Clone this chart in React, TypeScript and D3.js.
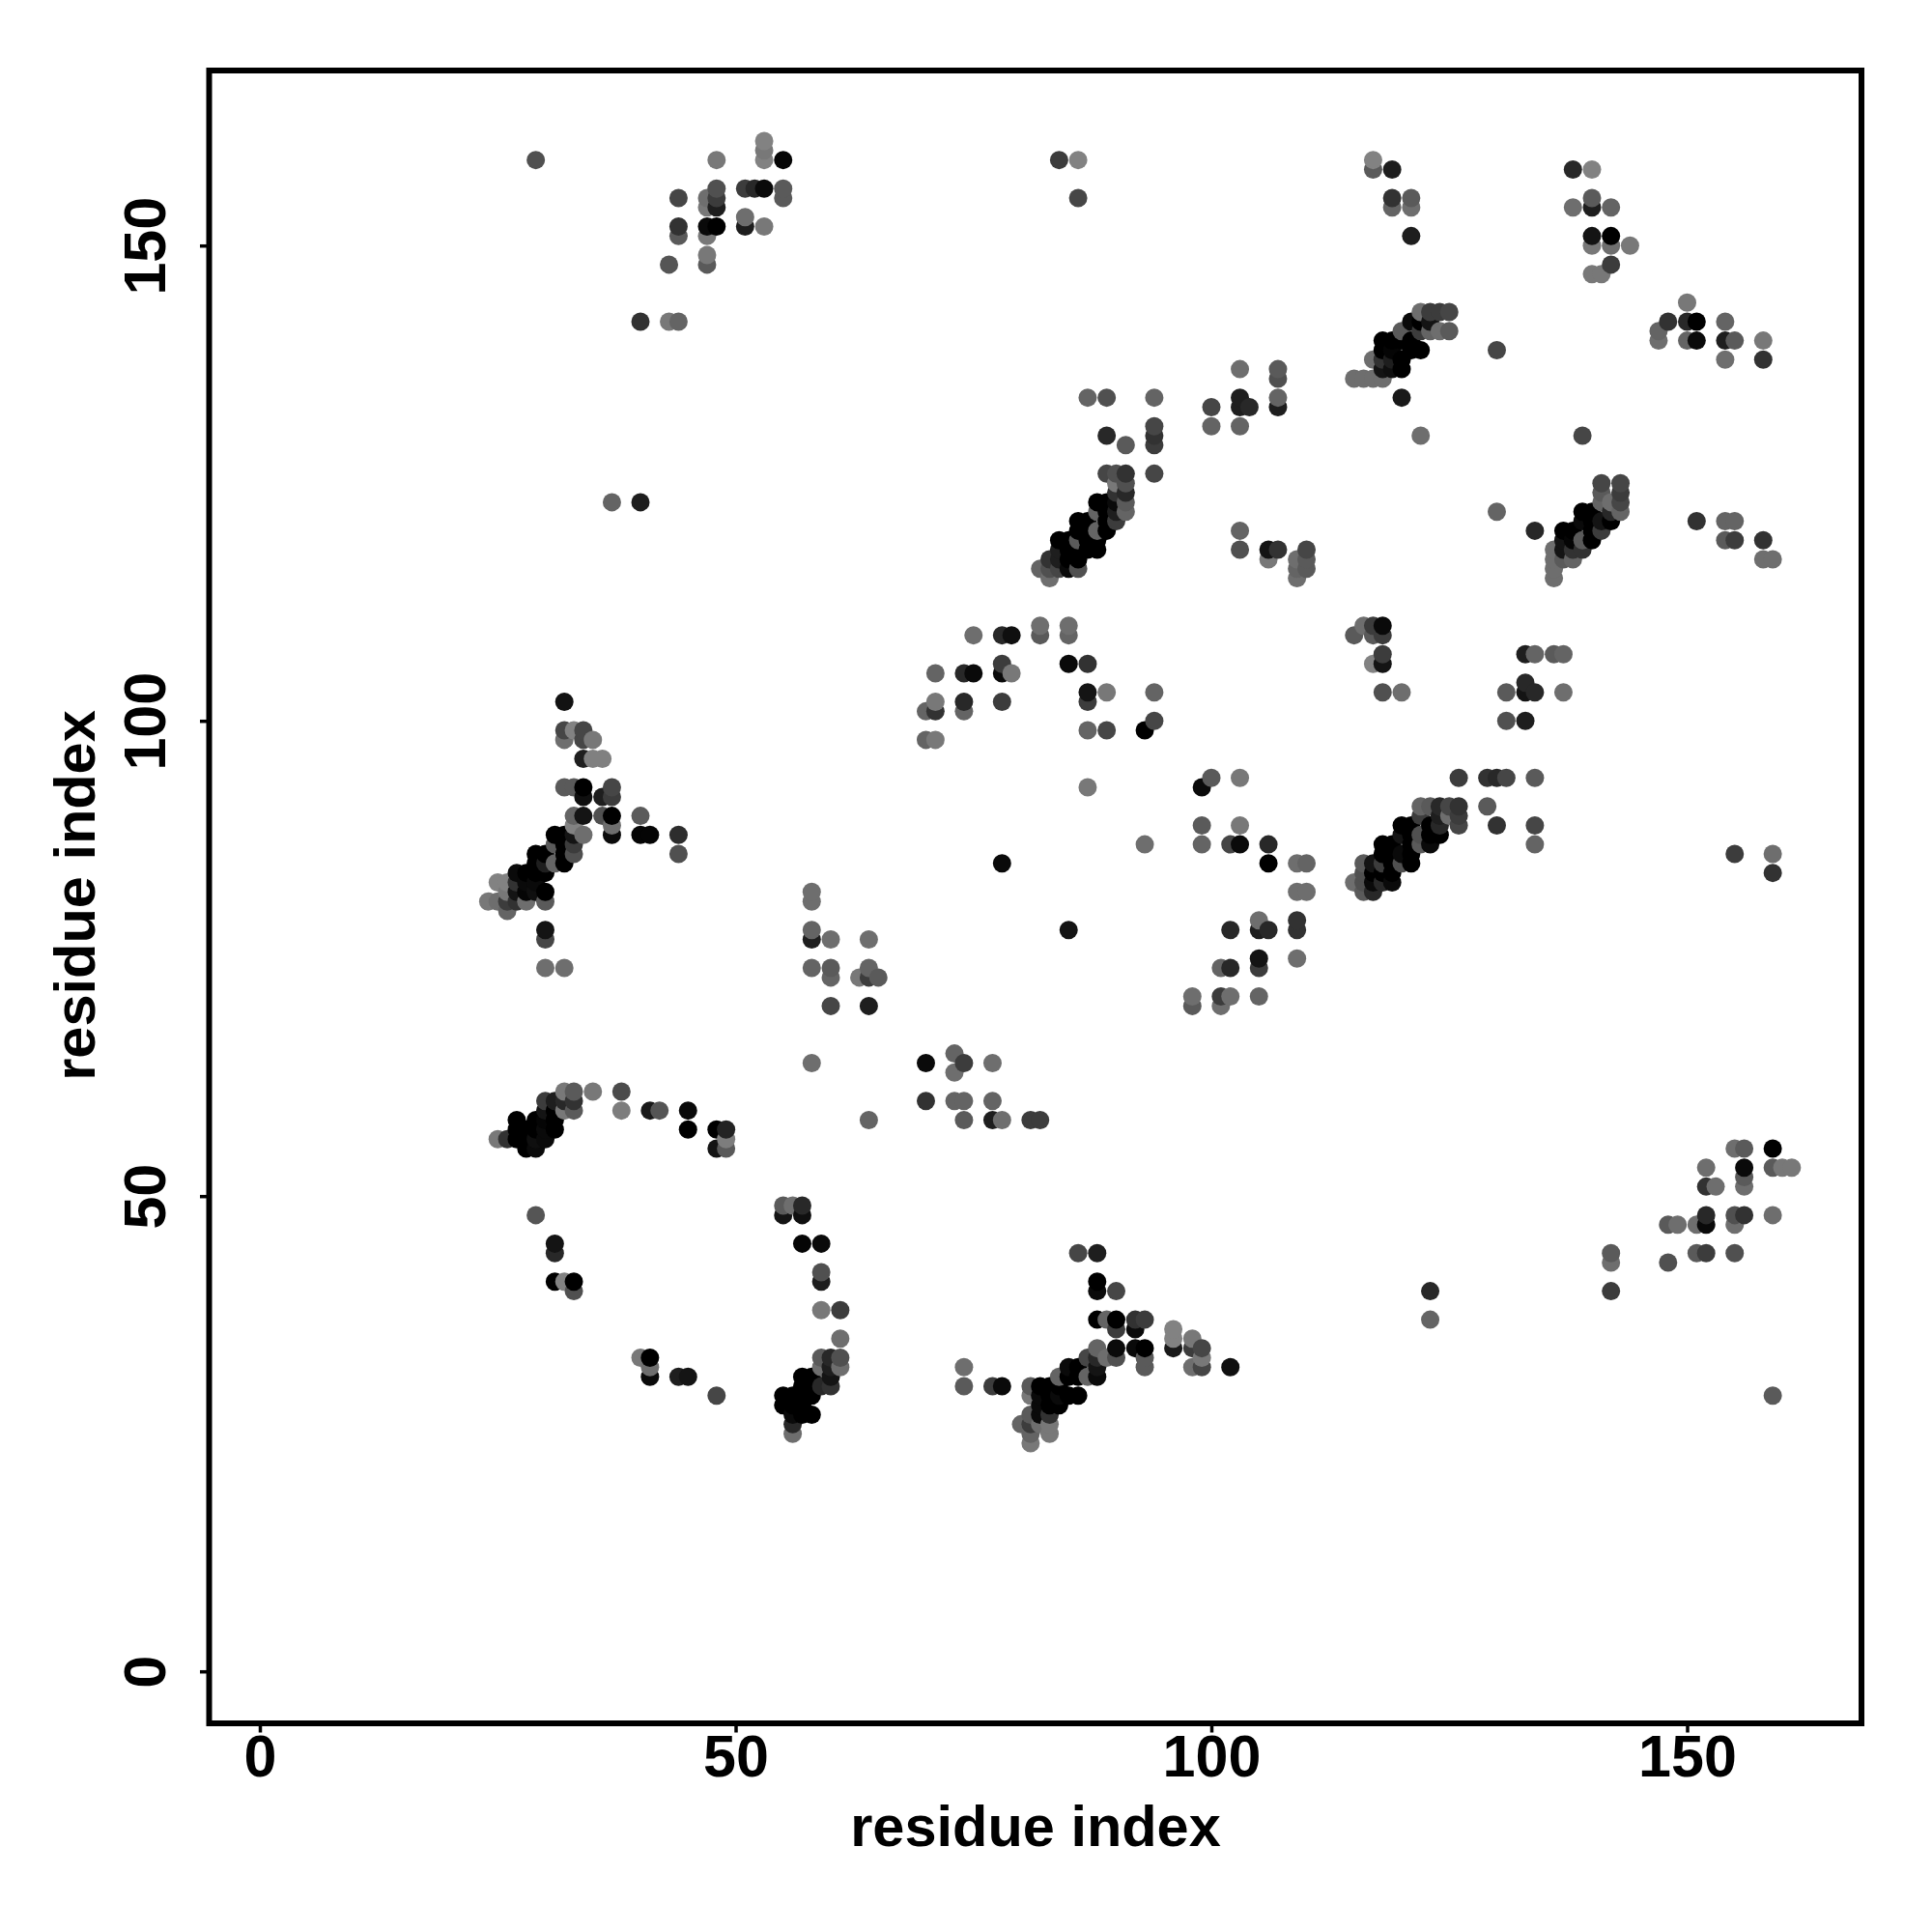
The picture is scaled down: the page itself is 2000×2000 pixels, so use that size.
import React, { useEffect, useRef } from "react";
import * as d3 from "d3";

type P = [number, number, number]; // residue i, residue j, gray level

const helixLeft: P[] = [[32,102,18],[32,99,70],[33,99,130],[34,99,70],[32,98,110],[34,98,70],[35,98,120],[34,96,30],[35,96,128],[36,96,128],
[32,93,90],[33,93,90],[34,93,0],[37,93,70],[34,92,15],[36,92,30],[37,92,60],[33,90,100],[34,90,20],[36,90,80],[37,90,0],[33,89,130],[37,89,110],[37,88,10],[34,88,110],
[40,90,90],[40,88,5],[41,88,5],[44,88,45],[44,86,80],[31,88,0],[32,88,0],[33,88,20],[31,87,90],[32,87,0],[33,87,60],[29,86,0],[30,86,0],[32,86,0],[33,86,80],
[29,85,0],[30,85,30],[31,85,100],[32,85,0],[27,84,10],[28,84,0],[29,84,0],[30,84,0],[25,83,130],[26,83,130],[27,83,50],[28,83,10],[29,83,10],
[26,82,120],[27,82,20],[28,82,5],[29,82,15],[30,82,0],[24,81,120],[25,81,110],[26,81,60],[27,81,50],[28,81,110],[30,81,90],[26,80,100],[30,78,20],[30,77,70],[30,74,110],[32,74,110]];

const arcLeft: P[] = [[32,61,120],[33,61,90],[35,61,120],[38,61,75],[30,60,60],[31,60,30],[32,60,40],[33,60,50],[30,59,20],[31,59,0],[32,59,120],[33,59,90],[38,59,125],[41,59,25],[42,59,85],[45,59,10],
[27,58,0],[29,58,0],[30,58,5],[31,58,0],[27,57,0],[28,57,0],[29,57,0],[30,57,10],[31,57,0],[45,57,0],[48,57,0],[49,57,35],[25,56,120],[26,56,50],[27,56,0],[28,56,0],[29,56,15],[30,56,10],[49,56,125],[28,55,0],[29,55,10],[48,55,20],[49,55,90],
[29,48,85],[31,45,20],[31,44,40],[31,41,0],[32,41,130],[33,41,0],[33,40,80]];

const topCluster: P[] = [[29,159,80],[48,159,120],[53,161,130],[53,160,120],[53,159,130],[55,159,5],[44,155,70],[47,155,110],[48,155,60],[48,156,80],[51,156,60],[52,156,40],[53,156,10],[55,156,90],[55,155,90],[47,154,120],[48,154,30],
[44,152,50],[44,151,90],[47,152,10],[48,152,0],[47,151,120],[51,153,110],[51,152,30],[53,152,120],[43,148,85],[47,149,120],[47,148,90],[40,142,50],[43,142,120],[44,142,100],[37,123,100],[40,123,30],[84,159,60],[86,159,130],[86,155,70]];

const topRight: P[] = [[117,159,130],[117,158,90],[119,158,30],[119,155,50],[119,154,100],[121,155,90],[121,154,110],[121,151,30],[138,158,40],[140,158,130],[138,154,110],[140,155,90],[140,154,30],[142,154,100],[140,151,20],[142,151,0],[140,150,120],[142,150,110],[144,150,120],[142,148,60],[140,147,120],[141,147,120],
[147,141,100],[147,140,110],[148,142,50],[150,144,120],[150,142,40],[151,142,0],[150,140,100],[151,140,10],[154,142,100],[154,140,30],[155,140,90],[154,138,110],[158,140,120],[158,138,50],[130,139,70],[122,130,110],[120,134,25]];

const helixUpper: P[] = [[122,143,110],[123,143,60],[124,143,60],[125,143,70],[121,142,10],[122,142,0],[123,142,20],[120,141,90],[122,141,60],[123,141,100],[124,141,110],[125,141,90],[118,140,0],[119,140,0],[120,140,0],[121,140,0],[118,139,0],[119,139,5],[121,139,0],[122,139,0],[117,138,110],[118,138,50],[119,138,30],[120,138,0],[118,137,20],[119,137,15],[120,137,0],[115,136,110],[116,136,110],[117,136,110],[118,136,110]];

const helixMiddle: P[] = [[87,134,100],[89,134,80],[94,134,100],[94,131,70],[89,130,40],[94,130,50],[91,129,90],[94,129,60],[89,126,70],[90,126,80],[91,126,50],[94,126,70],[90,125,120],[91,125,80],[90,124,50],[91,124,40],[88,123,0],[89,123,0],[90,123,10],[91,123,90],[88,122,100],[89,122,0],[90,122,30],[91,122,100],
[86,121,0],[87,121,0],[89,121,0],[90,121,60],[86,120,0],[87,120,0],[88,120,100],[89,120,0],[84,119,0],[85,119,0],[86,119,90],[87,119,0],[88,119,0],[84,118,30],[85,118,0],[86,118,0],[87,118,0],[88,118,0],[83,117,50],[84,117,30],[85,117,0],[86,117,0],[82,116,100],[83,116,80],[84,116,70],[85,116,10],[86,116,80],[83,115,110]];

const helixRight: P[] = [[134,120,40],[141,125,70],[143,125,70],[141,124,90],[143,124,60],[141,123,100],[142,123,110],[143,123,70],[139,122,0],[140,122,0],[142,122,40],[143,122,100],[139,121,10],[140,121,0],[141,121,20],[142,121,0],[137,120,0],[138,120,0],[140,120,0],[141,120,60],[137,119,20],[138,119,5],[139,119,90],[140,119,0],[136,118,110],[137,118,20],[138,118,50],[139,118,50],[136,117,110],[137,117,90],[138,117,100],[136,116,110],[136,115,110],
[130,122,100],[139,130,70],[151,121,50],[154,121,100],[155,121,100],[154,119,90],[155,119,60],[158,119,50],[158,117,110],[159,117,110]];

const midUpper: P[] = [[100,133,70],[100,131,100],[103,137,110],[103,134,30],[103,133,30],[104,133,40],[103,131,100],[107,137,90],[107,136,80],[107,134,100],[107,133,30],[103,120,100],[103,118,80],[106,118,20],[107,118,50],[106,117,120],[110,118,70],[110,117,90],[109,117,110],[110,116,90],[109,116,100],[109,115,110],
[115,109,90],[116,110,110],[117,110,60],[118,110,10],[117,109,90],[118,109,60],[117,106,130],[118,107,60],[118,106,20],[118,103,80],[120,103,110],[133,107,30],[134,107,100],[136,107,90],[137,107,100],[133,104,40],[131,103,90],[133,103,20],[134,103,40],[137,103,110],[131,100,80],[133,100,30]];

const center: P[] = [[75,109,110],[78,109,40],[79,109,15],[82,110,110],[82,109,90],[85,110,110],[85,109,100],[78,106,60],[78,105,10],[79,105,120],[85,106,10],[87,106,50],[71,105,100],[74,105,40],[75,105,10],[71,102,120],[70,101,100],[71,101,50],[74,102,40],[74,101,100],[78,102,60],[87,103,20],[87,102,60],[89,103,120],[70,98,100],[71,98,120],[87,99,100],[89,99,70],[94,103,100],[94,100,70],[93,99,0],[87,93,120],[93,87,110],[78,85,10],[85,78,20],
[99,93,10],[100,94,90],[103,94,120],[99,89,90],[99,87,100],[103,89,120],[102,87,70],[103,87,10],[106,87,40],[106,85,0],[109,85,110],[110,85,100],[109,82,110],[110,82,110],[109,79,50],[109,78,50],[109,75,110],[102,78,40],[105,79,110],[105,78,30],[106,78,40],[105,75,20],[105,74,60],[101,74,100],[102,74,40],[105,71,100],[98,71,110],[98,70,90],[101,71,60],[101,70,110],[102,71,110]];

const helixLower: P[] = [[126,94,60],[129,94,50],[130,94,40],[131,94,70],[134,94,90],[122,91,100],[123,91,90],[124,91,40],[125,91,70],[126,91,50],[129,91,90],[122,90,60],[124,90,30],[125,90,110],[126,90,60],[120,89,0],[121,89,0],[123,89,0],[124,89,40],[126,89,70],[130,89,50],[134,89,70],[134,87,100],[120,88,20],[121,88,0],[122,88,80],[123,88,0],[124,88,0],[118,87,0],[119,87,0],[121,87,0],[122,87,90],[123,87,10],[118,86,0],[119,86,0],[120,86,10],[121,86,0],
[116,85,90],[117,85,20],[118,85,60],[119,85,0],[120,85,80],[121,85,0],[116,84,80],[117,84,0],[118,84,0],[119,84,0],[115,83,110],[116,83,80],[117,83,10],[118,83,40],[119,83,10],[116,82,90],[117,82,40],[155,86,60],[159,86,110],[159,84,50]];

const lowerCenter: P[] = [[58,82,110],[58,81,110],[58,78,100],[58,77,30],[60,77,110],[64,77,110],[58,74,100],[60,74,90],[60,73,100],[63,73,120],[64,74,100],[64,73,60],[65,73,90],[60,70,70],[64,70,30],[58,64,110],[70,64,10],[73,65,100],[73,63,110],[74,64,60],[77,64,110],[70,60,50],[73,60,100],[74,60,100],[77,60,100],[74,58,90],[77,58,30],[78,58,110],[81,58,60],[82,58,60],[64,58,100]];

const arcBottom: P[] = [[55,49,90],[56,49,110],[57,49,40],[55,48,20],[57,48,15],[57,45,5],[59,45,10],[59,42,80],[59,41,30],[59,38,120],[61,38,60],[61,35,110],[59,33,90],[60,33,40],[61,33,80],[59,32,110],[60,32,30],[61,32,110],[57,31,0],[58,31,0],[60,31,20],[57,30,0],[58,30,0],[59,30,40],[60,30,50],[55,29,0],[56,29,0],[57,29,0],[58,29,0],[55,28,0],[56,28,0],[57,28,0],[56,27,10],[57,27,0],[58,27,0],[56,26,40],[56,25,110],
[40,33,120],[41,33,0],[41,32,110],[41,31,10],[44,31,30],[45,31,20],[48,29,70]];

const helixBottom: P[] = [[86,44,70],[88,44,30],[88,41,0],[88,40,10],[90,40,70],[88,37,0],[89,37,100],[90,37,0],[92,37,50],[93,37,60],[90,36,60],[92,36,10],[96,36,130],[96,35,130],[96,34,25],[98,35,120],[98,34,60],[99,34,70],[99,33,120],[98,32,110],[99,32,70],[102,32,15],[88,34,100],[90,34,10],[92,34,10],[93,34,0],[87,33,70],[88,33,40],[89,33,110],[90,33,80],[93,33,90],[85,32,10],[86,32,0],[88,32,20],[93,32,90],[84,31,100],[85,31,0],[86,31,0],[87,31,100],[88,31,10],
[78,30,10],[81,30,90],[82,30,0],[83,30,0],[84,30,0],[81,29,120],[82,29,10],[83,29,0],[84,29,10],[85,29,0],[86,29,0],[82,28,10],[83,28,0],[84,28,0],[81,27,90],[82,27,10],[83,27,50],[80,26,100],[81,26,60],[82,26,110],[83,26,120],[81,25,100],[83,25,120],[81,24,120],[74,32,110],[74,30,90],[77,30,60]];

const bottomRight: P[] = [[123,40,40],[123,37,100],[142,44,90],[142,43,110],[142,40,60],[148,47,90],[149,47,110],[148,43,80],[151,47,110],[152,48,40],[152,47,10],[152,51,50],[152,53,110],[153,51,110],[151,44,90],[152,44,60],[155,44,80],[155,48,80],[155,47,110],[156,48,50],[156,53,10],[156,52,90],[156,51,110],[155,55,110],[156,55,90],[159,55,0],[159,53,90],[160,53,120],[161,53,120],[159,48,110],[159,29,90]];

const xTickValues = [0, 50, 100, 150];
const yTickValues = [0, 50, 100, 150];
const xTitle = "residue index";
const yTitle = "residue index";

const allPoints: P[] = [helixLeft, arcLeft, topCluster, topRight, helixUpper, helixMiddle, helixRight, midUpper, center, helixLower, lowerCenter, arcBottom, helixBottom, bottomRight]
  .flat()
  .sort((a, b) => d3.ascending(a[0], b[0]) || d3.ascending(a[1], b[1]));

const FONT = "'Liberation Sans', Arial, sans-serif";
const frame = { left: 216.5, right: 1927, top: 73, bottom: 1784 };

export default function App() {
  const xRef = useRef<SVGGElement>(null);
  const yRef = useRef<SVGGElement>(null);
  const x = d3.scaleLinear().domain([0, 150]).range([269, 1746.5]);
  const y = d3.scaleLinear().domain([0, 150]).range([1730.2, 254.2]);

  useEffect(() => {
    const style = (g: d3.Selection<SVGGElement, unknown, null, undefined>) => {
      g.select(".domain").remove();
      g.selectAll("line").attr("stroke", "#000").attr("stroke-width", 3.5);
      g.selectAll("text").attr("fill", "#000").attr("font-family", FONT).attr("font-weight", 700).attr("font-size", 61);
    };
    const gx = d3.select(xRef.current!);
    gx.call(d3.axisBottom(x).tickValues(xTickValues).tickSize(9.5).tickFormat(d3.format("d")) as any);
    style(gx);
    gx.selectAll("text").attr("dy", 0).attr("y", 55);
    const gy = d3.select(yRef.current!);
    gy.call(d3.axisLeft(y).tickValues(yTickValues).tickSize(9.5).tickFormat(d3.format("d")) as any);
    style(gy);
    gy.selectAll("text")
      .attr("text-anchor", "middle")
      .attr("dy", 0)
      .attr("x", 0)
      .attr("y", 0)
      .attr("transform", "translate(-46,0) rotate(-90)");
  }, []);

  return (
    <svg width={2000} height={2000} style={{ position: "absolute", left: 0, top: 0, background: "#fff" }}>
      <g>
        {allPoints.map((p, i) => (
          <circle key={i} cx={x(p[0])} cy={y(p[1])} r={9.5} fill={d3.rgb(p[2], p[2], p[2]).formatHex()} />
        ))}
      </g>
      <g ref={xRef} transform={`translate(0,${frame.bottom})`} />
      <g ref={yRef} transform={`translate(${frame.left},0)`} />
      <rect x={frame.left} y={frame.top} width={frame.right - frame.left} height={frame.bottom - frame.top} fill="none" stroke="#000" strokeWidth={6} />
      <text x={1072} y={1911} textAnchor="middle" fontFamily={FONT} fontWeight={700} fontSize={59.5}>{xTitle}</text>
      <text transform="translate(98,927) rotate(-90)" textAnchor="middle" fontFamily={FONT} fontWeight={700} fontSize={59.5}>{yTitle}</text>
    </svg>
  );
}
